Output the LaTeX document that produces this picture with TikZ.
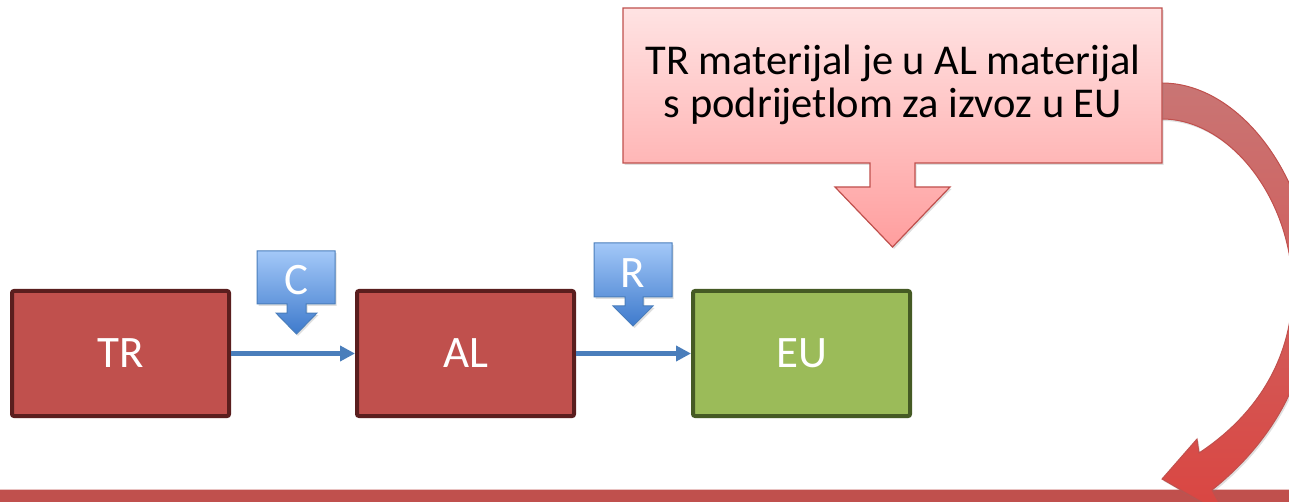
\documentclass[tikz,border=0pt]{standalone}
\usepackage{fontspec}
\setmainfont{Carlito}
\usetikzlibrary{arrows.meta,shadows}
\definecolor{redfill}{HTML}{C0504D}
\definecolor{redline}{HTML}{5A1E1E}
\definecolor{greenfill}{HTML}{9BBB59}
\definecolor{greenline}{HTML}{455A24}
\definecolor{flowblue}{HTML}{4A7EBB}
\definecolor{bluetop}{HTML}{A3C8F8}
\definecolor{bluebot}{HTML}{3E7ACC}
\definecolor{blueline}{HTML}{4A7EBB}
\definecolor{pinktop}{HTML}{FFE3E3}
\definecolor{pinkbot}{HTML}{FF9E9E}
\definecolor{pinkline}{HTML}{C0504D}
\definecolor{curvetop}{HTML}{C97574}
\definecolor{curvebot}{HTML}{DA4541}
\tikzset{
  x=1pt, y=-1pt,
  soft/.style={drop shadow={shadow xshift=1.5pt, shadow yshift=-2pt, opacity=0.25}},
  stage/.style={draw, line width=4pt, rounded corners=2pt, minimum width=217pt, minimum height=125pt,
    inner sep=0pt, text=white, font=\fontsize{45}{50}\selectfont},
  redstage/.style={stage, fill=redfill, draw=redline},
  greenstage/.style={stage, fill=greenfill, draw=greenline},
  flow/.style={line width=4.5pt, draw=flowblue, -{Triangle[length=15pt,width=15pt]}},
  bluecall/.style={draw=blueline, line width=1pt, top color=bluetop, bottom color=bluebot},
  calltext/.style={text=white, font=\fontsize{45}{48}\selectfont, inner sep=0pt},
  pinkcall/.style={draw=pinkline, line width=1.2pt, top color=pinktop, bottom color=pinkbot},
  notetext/.style={text=black, font=\fontsize{42.5}{43}\selectfont, inner sep=0pt, anchor=base},
  curvearrow/.style={draw=redfill, line width=1pt, top color=curvetop, bottom color=curvebot},
}
\begin{document}
\begin{tikzpicture}
\useasboundingbox (0,0) rectangle (1289,502);
\clip (0,0) rectangle (1289,502);
% bottom bar
\fill[redfill] (0,490) rectangle (1289,502);
\draw[color=redfill!35!white, line width=1pt] (0,489.5) -- (1289,489.5);
% curved arrow
\path[curvearrow, soft] (1150,83) -- (1162,83) .. controls (1290,83) and (1400,340) .. (1212,490)
  -- (1226,516) -- (1162,479) -- (1197,439) -- (1199,453)
  .. controls (1370,340) and (1275,119) .. (1162,119) -- (1150,119) -- cycle;
% note callout
\path[pinkcall, soft] (623,8) -- (1162,8) -- (1162,163) -- (915,163) -- (915,187) -- (950,187)
  -- (892.5,247) -- (835,187) -- (870,187) -- (870,163) -- (623,163) -- cycle;
\node[notetext] (note1) at (893,75) {TR materijal je u AL materijal};
\node[notetext] (note2) at (893,118) {s podrijetlom za izvoz u EU};
% stages
\node[redstage, soft] (TR) at (120.5,353.5) {TR};
\node[redstage, soft] (AL) at (465.5,353.5) {AL};
\node[greenstage, soft] (EU) at (801.5,353.5) {EU};
\draw[flow] (TR.east) -- (AL.west);
\draw[flow] (AL.east) -- (EU.west);
% C callout
\path[bluecall, soft] (257,251) -- (335,251) -- (335,304) -- (306,304) -- (306,313) -- (317,313)
  -- (296.5,334) -- (276,313) -- (287,313) -- (287,304) -- (257,304) -- cycle;
\node[calltext] (C) at (296,280) {C};
% R callout
\path[bluecall, soft] (594,243) -- (672,243) -- (672,297) -- (643,297) -- (643,306) -- (653,306)
  -- (633,326) -- (613,306) -- (625,306) -- (625,297) -- (594,297) -- cycle;
\node[calltext] (R) at (633,273) {R};
\end{tikzpicture}
\end{document}
